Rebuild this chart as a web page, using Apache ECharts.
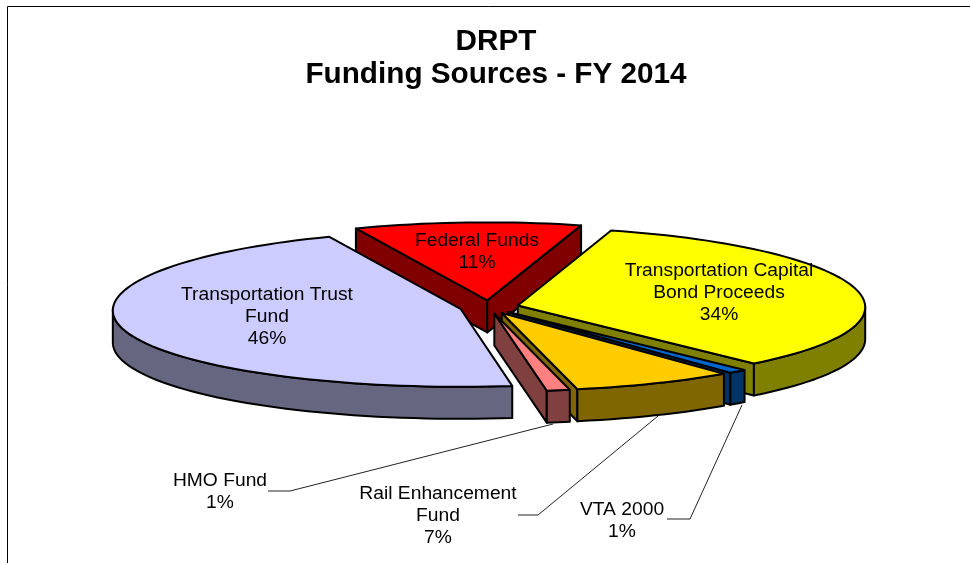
<!DOCTYPE html>
<html lang="en">
<head>
<meta charset="UTF-8">
<title>DRPT Funding Sources - FY 2014</title>
<script src="https://cdn.jsdelivr.net/npm/echarts@6/dist/echarts.min.js"></script>
<style>
  html, body { margin: 0; padding: 0; background: #fff; }
  #chart { width: 970px; height: 563px; }
</style>
</head>
<body>
<div id="chart"></div>
<script>
// slices clockwise from the back (labels round them)
const categories = ['Federal Funds', 'Transportation Capital\nBond Proceeds', 'VTA 2000', 'Rail Enhancement\nFund', 'HMO Fund', 'Transportation Trust\nFund'];
const values = [10.75, 33.9, 0.85, 7.4, 1.05, 46.05];

const topColors = ['#ff0000', '#ffff00', '#0066cc', '#ffcc00', '#ff8080', '#ccccff'];
const wallColors = ['#800000', '#808000', '#003366', '#806600', '#804040', '#666680'];
// label centre of each slice, in pixels
const labelPos = [[477, 252], [719, 293], [622, 521], [438, 516], [220, 492], [267, 317]];

// 3D pie geometry
const cx = 489, cy = 307;
const rx = 347.5, ry = 78;
const depth = 32;
const explode = 0.085;
const perspective = 0.02;
const startDeg = -22.7;

const total = values.reduce((a, b) => a + b, 0);
const slices = [];
let acc = startDeg;
values.forEach(v => {
  const sweep = v / total * 360;
  slices.push({ from: acc, to: acc + sweep });
  acc += sweep;
});

function project(px, py) {
  return [cx + rx * px * (1 - perspective * py), cy - ry * py];
}

function renderSlice(params, api) {
  const i = params.dataIndex;
  const a0 = slices[i].from * Math.PI / 180;
  const a1 = slices[i].to * Math.PI / 180;
  const mid = (a0 + a1) / 2;
  const ox = explode * Math.sin(mid), oy = explode * Math.cos(mid);

  const apex = project(ox, oy);
  const arc = [];
  const front = [];  // part of the rim that faces the viewer
  const steps = Math.max(4, Math.ceil((a1 - a0) * 180 / Math.PI / 2));
  for (let k = 0; k <= steps; k++) {
    const t = a0 + (a1 - a0) * k / steps;
    const p = project(ox + Math.sin(t), oy + Math.cos(t));
    arc.push(p);
    if (Math.cos(t) <= 0) front.push(p);
  }
  const down = p => [p[0], p[1] + depth];
  const first = arc[0], last = arc[arc.length - 1];
  const line = { stroke: '#000', lineWidth: 2, lineJoin: 'round' };
  const wall = wallColors[i];

  const poly = (points, fill) => ({
    type: 'polygon',
    shape: { points },
    style: Object.assign({ fill }, line)
  });

  const children = [];
  // cut faces only where they turn towards the viewer
  if (Math.sin(a0) < 0) children.push(poly([apex, first, down(first), down(apex)], wall));
  if (Math.sin(a1) > 0) children.push(poly([apex, last, down(last), down(apex)], wall));
  if (front.length > 1) children.push(poly(front.concat(front.map(down).reverse()), wall));
  children.push(poly([apex].concat(arc), topColors[i]));
  children.push({
    type: 'text',
    z2: 10,
    x: labelPos[i][0],
    y: labelPos[i][1],
    scaleX: 1.1,
    style: {
      x: 0,
      y: 0,
      text: categories[i] + '\n' + Math.round(api.value(0)) + '%',
      fill: '#000',
      font: '17.5px "Liberation Sans", Arial, sans-serif',
      lineHeight: 22,
      align: 'center',
      verticalAlign: 'middle'
    }
  });

  return { type: 'group', children };
}

const leaderStyle = { stroke: '#222', lineWidth: 1, fill: 'none' };
function leader(points) {
  return { type: 'polyline', shape: { points }, style: leaderStyle, z: 1 };
}

const chart = echarts.init(document.getElementById('chart'));
chart.setOption({
  animation: false,
  backgroundColor: '#fff',
  title: {
    text: 'DRPT\nFunding Sources - FY 2014',
    left: 491,
    top: 20,
    textAlign: 'center',
    textStyle: {
      fontFamily: '"Liberation Sans", Arial, sans-serif',
      fontSize: 29.7,
      fontWeight: 'bold',
      lineHeight: 33,
      color: '#000'
    }
  },
  graphic: [
    // chart frame: only the top and left edges are in view
    { type: 'polyline', shape: { points: [[7.5, 563], [7.5, 6.5], [970, 6.5]] }, style: { stroke: '#000', lineWidth: 1, fill: 'none' } },
    leader([[268, 491], [290, 491], [553, 424]]),
    leader([[518, 515], [538, 515], [658, 416]]),
    leader([[667, 519], [690, 519], [742, 405]])
  ],
  series: [{
    type: 'custom',
    coordinateSystem: 'none',
    renderItem: renderSlice,
    data: values.map(v => [v]),
    silent: true
  }]
});
</script>
</body>
</html>
